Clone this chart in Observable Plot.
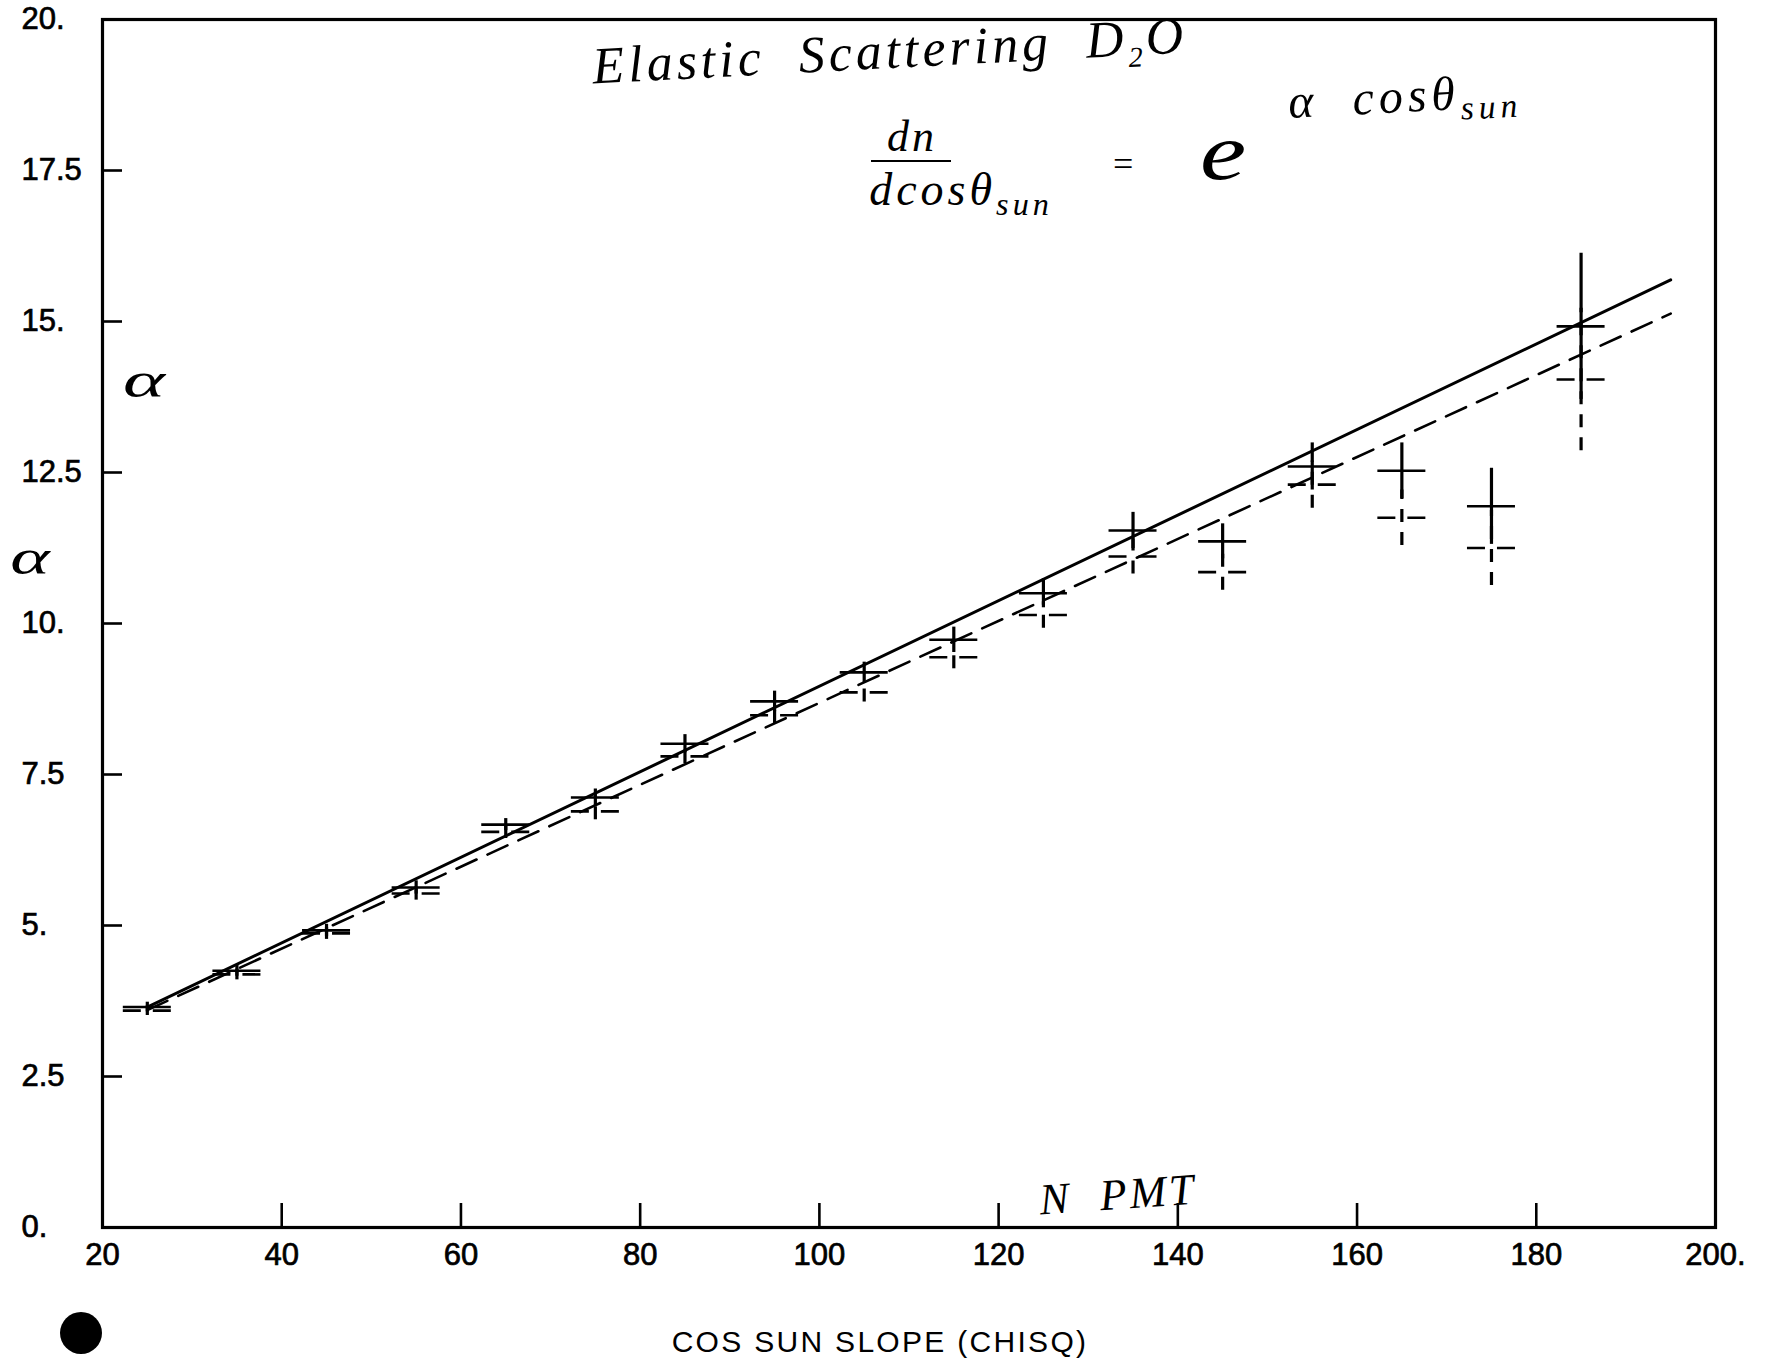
<!DOCTYPE html>
<html><head><meta charset="utf-8">
<script src="https://cdn.jsdelivr.net/npm/d3@7"></script>
<script src="https://cdn.jsdelivr.net/npm/@observablehq/plot@0.6"></script>
<style>
body{margin:0;background:#fff;}
#wrap{position:relative;width:1773px;height:1371px;overflow:hidden;background:#fff;}
.hw{position:absolute;font-family:"Liberation Serif",serif;font-style:italic;color:#000;transform:translate(-50%,-50%);white-space:nowrap;line-height:1;}
.hole{position:absolute;width:42px;height:42px;border-radius:50%;background:#000;}
svg [aria-label="x-axis tick label"] text, svg [aria-label="y-axis tick label"] text{stroke:#000;stroke-width:0.7px;}
svg g[aria-label="text"] text{letter-spacing:2.3px;}
</style></head><body><div id="wrap"></div>
<script>
// ---- data ----
const binCenters = [25,35,45,55,65,75,85,95,105,115,125,135,145,155,165,175,185];
const solidAlpha = [3.65,4.25,4.92,5.63,6.67,7.12,8.01,8.71,9.19,9.73,10.50,11.54,11.36,12.60,12.53,11.94,14.92];
const solidErr   = [0.08,0.09,0.10,0.11,0.10,0.14,0.15,0.17,0.17,0.21,0.24,0.30,0.29,0.39,0.46,0.63,1.21];
const dashedAlpha = [3.59,4.19,4.87,5.53,6.55,6.89,7.80,8.48,8.86,9.44,10.14,11.11,10.85,12.30,11.75,11.25,14.04];
const dashedErr   = [0.08,0.09,0.10,0.11,0.11,0.14,0.12,0.14,0.16,0.19,0.22,0.29,0.30,0.39,0.46,0.62,1.18];
const fitX = [25,195];
const fitSolidY = [3.65,15.69];
const fitDashedY = [3.60,15.13];
const xTickVals = [20,40,60,80,100,120,140,160,180,200];
const yTickVals = [0,2.5,5,7.5,10,12.5,15,17.5,20];
const xLabel = "COS SUN SLOPE (CHISQ)";

// ---- layout ----
const W = 1773, H = 1371, mL = 102, mR = 58, mT = 19, mB = 144;
const innerW = W - mL - mR, innerH = H - mT - mB;
const capHalf = 24 * (200 - 20) / innerW; // 24px half-width of the cross bars

const pts = binCenters.map((x, i) => ({x, ys: solidAlpha[i], es: solidErr[i], yd: dashedAlpha[i], ed: dashedErr[i]}));
const fitS = fitX.map((x, i) => ({x, y: fitSolidY[i]}));
const fitD = fitX.map((x, i) => ({x, y: fitDashedY[i]}));

const chart = Plot.plot({
  width: W, height: H,
  marginLeft: mL, marginRight: mR, marginTop: mT, marginBottom: mB,
  style: {fontFamily: "'Liberation Sans', Arial, sans-serif", fontSize: "31px", color: "#000", background: "#fff"},
  x: {domain: [20, 200]},
  y: {domain: [0, 20]},
  marks: [
    Plot.frame({stroke: "#000", strokeWidth: 3.2}),
    Plot.tickX(xTickVals.slice(1, -1), {x: d => d, insetTop: innerH - 24, stroke: "#000", strokeWidth: 2.6}),
    Plot.tickY(yTickVals.slice(1, -1), {y: d => d, insetRight: innerW - 20, stroke: "#000", strokeWidth: 2.6}),
    Plot.axisX(xTickVals, {tickSize: 0, tickPadding: 15, tickFormat: d => d === 200 ? "200." : String(d), label: null}),
    Plot.axisY(yTickVals, {tickSize: 0, tickPadding: 0, textAnchor: "start", dx: -81,
      tickFormat: d => Number.isInteger(d) ? d + "." : String(d), label: null}),
    Plot.text([xLabel], {text: d => d, frameAnchor: "bottom", dx: -29, dy: 124, fontSize: 30, fill: "#000"}),
    Plot.line(fitD, {x: "x", y: "y", stroke: "#000", strokeWidth: 2.6, strokeDasharray: "22 12"}),
    Plot.line(fitS, {x: "x", y: "y", stroke: "#000", strokeWidth: 3}),
    Plot.ruleX(pts, {x: "x", y1: d => d.yd - d.ed, y2: d => d.yd + d.ed, stroke: "#000", strokeWidth: 3.2, strokeDasharray: "13 10"}),
    Plot.ruleY(pts, {y: "yd", x1: d => d.x - capHalf, x2: d => d.x + capHalf, stroke: "#000", strokeWidth: 2.6, strokeDasharray: "18 12"}),
    Plot.ruleX(pts, {x: "x", y1: d => d.ys - d.es, y2: d => d.ys + d.es, stroke: "#000", strokeWidth: 3.2}),
    Plot.ruleY(pts, {y: "ys", x1: d => d.x - capHalf, x2: d => d.x + capHalf, stroke: "#000", strokeWidth: 2.6})
  ]
});
const wrap = document.getElementById("wrap");
wrap.appendChild(chart);

// ---- handwritten annotations ----
function note(html, x, y, size, rot, spacing, sx) {
  const d = document.createElement("div");
  d.className = "hw";
  d.innerHTML = html;
  d.style.left = x + "px"; d.style.top = y + "px"; d.style.fontSize = size + "px";
  if (spacing) d.style.letterSpacing = spacing + "px";
  d.style.transform = `translate(-50%,-50%) rotate(${rot || 0}deg) scaleX(${sx || 1})`;
  wrap.appendChild(d);
}
note("Elastic&nbsp;&nbsp;Scattering&nbsp;&nbsp;D<sub style='font-size:0.55em'>2</sub>O", 890, 55, 52, -3, 4);
note("dn", 912, 137, 44, 0, 3);
note("dcosθ<sub style='font-size:0.7em'>sun</sub>", 961, 194, 46, 0, 4);
note("=", 1123, 164, 36, 0);
note("e", 1223, 152, 80, 0, 0, 1.3);
note("α&nbsp;&nbsp;cosθ<sub style='font-size:0.7em'>sun</sub>", 1405, 100, 48, -3, 5);
note("α", 144, 380, 50, 0, 0, 1.6);
note("α", 30, 557, 50, 0, 0, 1.5);
note("N&nbsp;&nbsp;PMT", 1118, 1195, 44, -4, 3);
const bar = document.createElement("div");
bar.style.cssText = "position:absolute;left:871px;top:160px;width:80px;height:2px;background:#000;";
wrap.appendChild(bar);
const hole = document.createElement("div");
hole.className = "hole";
hole.style.left = (81 - 21) + "px"; hole.style.top = (1333 - 21) + "px";
wrap.appendChild(hole);
</script>
</body></html>
